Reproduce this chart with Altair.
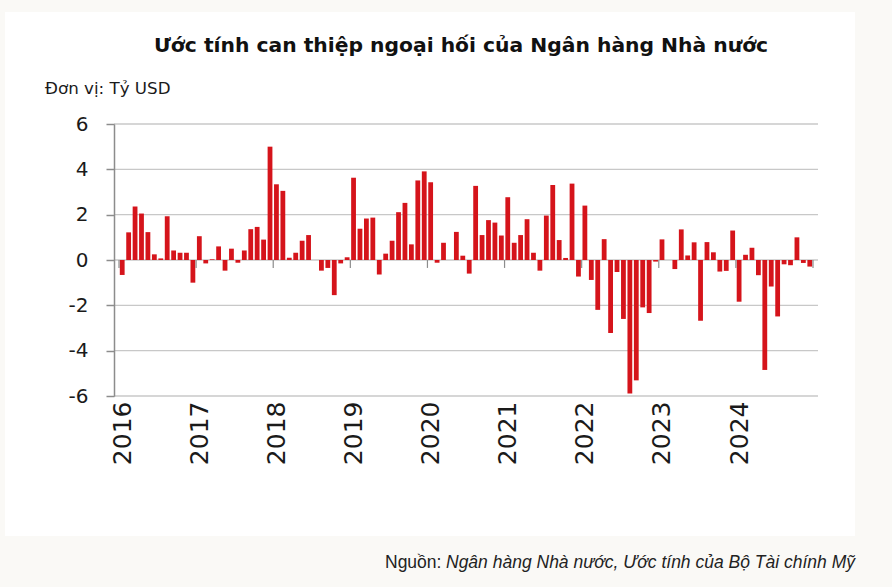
import altair as alt
import pandas as pd

# Monthly FX intervention estimates (billion USD), Jan..Dec of each year
v2016 = [-0.66, 1.22, 2.36, 2.05, 1.23, 0.25, 0.07, 1.93, 0.42, 0.32, 0.32, -1.00]
v2017 = [1.05, -0.15, 0.03, 0.60, -0.47, 0.50, -0.12, 0.42, 1.36, 1.46, 0.90, 5.00]
v2018 = [3.34, 3.05, 0.10, 0.32, 0.85, 1.10, 0.00, -0.47, -0.35, -1.55, -0.15, 0.12]
v2019 = [3.63, 1.38, 1.83, 1.87, -0.64, 0.28, 0.85, 2.11, 2.52, 0.69, 3.51, 3.91]
v2020 = [3.43, -0.12, 0.76, 0.00, 1.24, 0.19, -0.60, 3.27, 1.10, 1.76, 1.65, 1.08]
v2021 = [2.77, 0.76, 1.10, 1.80, 0.32, -0.47, 1.96, 3.31, 0.88, 0.09, 3.37, -0.73]
v2022 = [2.40, -0.88, -2.20, 0.92, -3.22, -0.53, -2.60, -5.89, -5.31, -2.09, -2.34, -0.07]
v2023 = [0.91, 0.00, -0.40, 1.35, 0.20, 0.78, -2.68, 0.79, 0.34, -0.51, -0.48, 1.30]
v2024 = [-1.84, 0.23, 0.54, -0.67, -4.85, -1.17, -2.49, -0.19, -0.23, 1.00, -0.13, -0.29]

years = [2016, 2017, 2018, 2019, 2020, 2021, 2022, 2023, 2024]
y_ticks = [-6, -4, -2, 0, 2, 4, 6]

title_text = "Ước tính can thiệp ngoại hối của Ngân hàng Nhà nước"
unit_text = "Đơn vị: Tỷ USD"
source_label = "Nguồn:"
source_text = "Ngân hàng Nhà nước, Ước tính của Bộ Tài chính Mỹ"

monthly = v2016 + v2017 + v2018 + v2019 + v2020 + v2021 + v2022 + v2023 + v2024
df = pd.DataFrame({"idx": list(range(len(monthly))), "value": monthly})

# year boundaries (between December and January) for the small ticks on the zero line
bounds = pd.DataFrame({"b": [12 * k - 0.5 for k in range(len(years) + 1)],
                       "y0": [0.0] * (len(years) + 1),
                       "y1": [-0.35] * (len(years) + 1)})
grid_df = pd.DataFrame({"value": y_ticks})

W, H = 704, 272
PL, PT = 114, 124

x_scale = alt.Scale(domain=[-0.5, len(monthly) - 0.5], nice=False, zero=False)
y_scale = alt.Scale(domain=[y_ticks[0], y_ticks[-1]], nice=False)

x_axis = alt.Axis(
    values=[12 * k for k in range(len(years))],
    labelExpr="'' + (%d + datum.value / 12)" % years[0],
    labelAngle=-90, labelAlign="right", labelBaseline="middle",
    labelFont="DejaVu Sans", labelFontSize=25, labelColor="#1a1a1a",
    labelPadding=5, ticks=False, domain=False, grid=False, title=None, zindex=1,
)
y_axis = alt.Axis(
    values=y_ticks, labelExpr="'' + datum.value",
    labelFont="DejaVu Sans", labelFontSize=20, labelColor="#1a1a1a",
    labelPadding=18, grid=False, title=None, zindex=1,
    domainColor="#8c8c8c", domainWidth=1.5,
    tickColor="#8c8c8c", tickSize=8, tickWidth=1.5,
)

# white card behind the chart
panel = alt.Chart(pd.DataFrame({"k": [0]})).mark_rect(color="white").encode(
    x=alt.value(5 - PL), x2=alt.value(855 - PL),
    y=alt.value(12 - PT), y2=alt.value(536 - PT),
)

grid = alt.Chart(grid_df).mark_rule(color="#c8c8c8", strokeWidth=1.3).encode(
    y=alt.Y("value:Q", scale=y_scale, axis=y_axis),
    x=alt.value(0), x2=alt.value(W),
)

bars = alt.Chart(df).mark_bar(size=4.8, color="#d5141b").encode(
    x=alt.X("idx:Q", scale=x_scale, axis=x_axis),
    y=alt.Y("value:Q", scale=y_scale, axis=y_axis),
)

zero_ticks = alt.Chart(bounds).mark_rule(color="#8c8c8c", strokeWidth=1.2).encode(
    x=alt.X("b:Q", scale=x_scale, axis=x_axis),
    y=alt.Y("y0:Q", scale=y_scale, axis=y_axis),
    y2="y1:Q",
)

def label(text, x, y, **kw):
    return alt.Chart(pd.DataFrame({"t": [text]})).mark_text(**kw).encode(
        text="t:N", x=alt.value(x - PL), y=alt.value(y - PT)
    )

title = label(title_text, 461, 52, font="DejaVu Sans", fontSize=20.3, fontWeight="bold",
              color="#111111", align="center", baseline="alphabetic")
unit = label(unit_text, 45, 94, font="DejaVu Sans", fontSize=16.7,
             color="#1a1a1a", align="left", baseline="alphabetic")
src1 = label(source_label, 385, 568, font="Liberation Sans", fontSize=17.5,
             color="#222222", align="left", baseline="alphabetic")
src2 = label(source_text, 446, 568, font="Liberation Sans", fontSize=17.5, fontStyle="italic",
             color="#222222", align="left", baseline="alphabetic")

chart = alt.layer(panel, grid, bars, zero_ticks, title, unit, src1, src2).properties(
    width=W, height=H,
    padding={"left": PL, "top": PT, "right": 892 - PL - W, "bottom": 587 - PT - H},
    autosize=alt.AutoSizeParams(type="none"),
    background="#faf9f6",
).configure_view(stroke=None)

chart.save("out.html", embed_options={"renderer": "svg", "actions": False})
